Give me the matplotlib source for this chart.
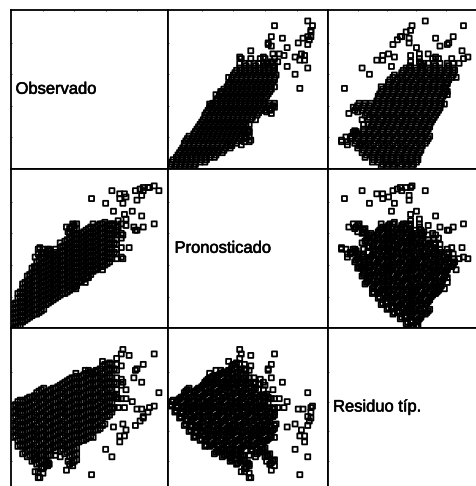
import matplotlib
matplotlib.use("Agg")
import matplotlib.pyplot as plt
import matplotlib.patheffects as pe

labels = ["Observado", "Pronosticado", "Residuo típ."]

observed = [
 1,1,1,1,1,1,
 4,4,4,4,4,4,4,4,
 7,7,7,7,7,7,7,7,7,
 10,10,10,10,10,10,10,10,10,10,
 13,13,13,13,13,13,13,13,13,13,13,
 16,16,16,16,16,16,16,16,16,16,16,16,
 19,19,19,19,19,19,19,19,19,19,19,19,19,
 22,22,22,22,22,22,22,22,22,22,22,22,
 25,25,25,25,25,25,25,25,25,25,25,
 28,28,28,28,28,28,28,28,28,28,28,28,
 31,31,31,31,31,31,31,31,31,31,31,31,
 34,34,34,34,34,34,34,34,34,34,34,34,
 37,37,37,37,37,37,37,37,37,37,37,37,37,37,
 40,40,40,40,40,40,40,40,40,40,40,40,40,40,
 43,43,43,43,43,43,43,43,43,43,43,
 46,46,46,46,46,46,46,46,46,46,46,
 49,49,49,49,49,49,49,49,49,49,49,
 52,52,52,52,52,52,52,52,52,52,52,
 55,55,55,55,55,55,55,55,55,55,
 58,58,58,58,58,58,58,58,58,58,
 61,61,61,61,61,61,61,61,61,
 64,64,64,64,64,64,64,64,
 67,67,67,67,67,67,67,
 70,70,70,70,
 91,94,91,87,84,83,80,79,83,84,80,78,73,77,73,72,71,73,72,69,69,64,65,60,51,
 75,71,71,67,68,70,79,64,68,58,54,47,49,41,39,35,36,19,22,15,
 17,18,20,23,17,15,24,88,82,84,
 2.5,2.5,2.5,2.5,2.5,2.5,
 5.5,5.5,5.5,5.5,5.5,5.5,5.5,5.5,
 8.5,8.5,8.5,8.5,8.5,8.5,8.5,8.5,8.5,
 11.5,11.5,11.5,11.5,11.5,11.5,11.5,11.5,11.5,11.5,
 14.5,14.5,14.5,14.5,14.5,14.5,14.5,14.5,14.5,14.5,14.5,
 17.5,17.5,17.5,17.5,17.5,17.5,17.5,17.5,17.5,17.5,17.5,17.5,
 20.5,20.5,20.5,20.5,20.5,20.5,20.5,20.5,20.5,20.5,20.5,20.5,20.5,
 23.5,23.5,23.5,23.5,23.5,23.5,23.5,23.5,23.5,23.5,23.5,23.5,
 26.5,26.5,26.5,26.5,26.5,26.5,26.5,26.5,26.5,26.5,
 29.5,29.5,29.5,29.5,29.5,29.5,29.5,29.5,29.5,29.5,
 32.5,32.5,32.5,32.5,32.5,32.5,32.5,32.5,32.5,32.5,32.5,
 35.5,35.5,35.5,35.5,35.5,35.5,35.5,35.5,35.5,35.5,35.5,35.5,
 38.5,38.5,38.5,38.5,38.5,38.5,38.5,38.5,38.5,38.5,38.5,38.5,38.5,38.5,
 41.5,41.5,41.5,41.5,41.5,41.5,41.5,41.5,41.5,41.5,41.5,41.5,41.5,41.5,
 44.5,44.5,44.5,44.5,44.5,44.5,44.5,44.5,44.5,44.5,44.5,
 47.5,47.5,47.5,47.5,47.5,47.5,47.5,47.5,47.5,47.5,47.5,
 50.5,50.5,50.5,50.5,50.5,50.5,50.5,50.5,50.5,50.5,50.5,
 53.5,53.5,53.5,53.5,53.5,53.5,53.5,53.5,53.5,53.5,
 56.5,56.5,56.5,56.5,56.5,56.5,56.5,56.5,56.5,56.5,
 59.5,59.5,59.5,59.5,59.5,59.5,59.5,59.5,59.5,59.5,
 62.5,62.5,62.5,62.5,62.5,62.5,62.5,62.5,62.5,
 65.5,65.5,65.5,65.5,
]
predicted = [
 0,3,6,9,12,15,
 1,4,7,10,13,16,19,22,
 4,7,10,13,16,19,22,25,28,
 6,9,12,15,18,21,24,27,30,33,
 8,11,14,17,20,23,26,29,32,35,38,
 9,12,15,18,21,24,27,30,33,36,39,42,
 11,14,17,20,23,26,29,32,35,38,41,44,47,
 15,18,21,24,27,30,33,36,39,42,45,48,
 17,20,23,26,29,32,35,38,41,44,47,
 19,22,25,28,31,34,37,40,43,46,48,50,
 21,24,27,30,33,36,39,42,45,48,51,54,
 22,25,28,31,34,37,40,43,46,49,52,55,
 24,27,30,33,36,39,42,45,48,51,54,57,60,63,
 26,29,32,35,38,41,44,47,50,53,56,59,62,65,
 29,32,35,38,41,44,47,50,53,56,59,
 31,34,37,40,43,46,49,52,55,58,61,
 33,36,39,42,45,48,51,54,57,60,63,
 36,39,42,45,48,51,54,57,60,63,66,
 38,41,44,47,50,53,56,59,62,65,
 39,42,45,48,51,54,57,60,63,66,
 41,44,47,50,53,56,59,62,65,
 44,47,50,53,56,59,62,65,
 44,47,50,53,56,59,62,
 45,51,57,60,
 66,87,90,89,89,84,81,87,71,64,62,64,65,74,69,72,79,83,85,82,85,87,74,79,82,
 51,44,59,61,64,66,62,66,68,37,37,29,32,25,66,64,61,48,47,38,
 50,51,50,50,47,45,50,89,88,87,
 1,4,7,10,13,16,
 2,5,8,11,14,17,20,23,
 5,8,11,14,17,20,23,26,29,
 7,10,13,16,19,22,25,28,31,34,
 9,12,15,18,21,24,27,30,33,36,39,
 10,13,16,19,22,25,28,31,34,37,40,43,
 12,15,18,21,24,27,30,33,36,39,42,45,48,
 16,19,22,25,28,31,34,37,40,43,46,49,
 18,21,24,27,30,33,36,39,42,45,
 20,23,26,29,32,35,38,41,44,47,
 22,25,28,31,34,37,40,43,46,49,52,
 23,26,29,32,35,38,41,44,47,50,53,56,
 25,28,31,34,37,40,43,46,49,52,55,58,61,64,
 27,30,33,36,39,42,45,48,51,54,57,60,63,66,
 30,33,36,39,42,45,48,51,54,57,60,
 32,35,38,41,44,47,50,53,56,59,62,
 34,37,40,43,46,49,52,55,58,61,64,
 37,40,43,46,49,52,55,58,61,64,
 39,42,45,48,51,54,57,60,63,66,
 40,43,46,49,52,55,58,61,64,67,
 42,45,48,51,54,57,60,63,66,
 48,54,60,66,
]
residual = [
 57,53,49,44,40,36,
 60,56,52,47,43,39,34,30,
 60,56,52,47,43,39,34,30,25,
 62,57,53,49,44,40,36,31,27,23,
 63,59,55,50,46,41,37,33,28,24,20,
 66,62,57,53,49,44,40,36,31,27,23,18,
 68,63,59,55,50,46,41,37,33,28,24,20,15,
 66,62,57,53,49,44,40,36,31,27,23,18,
 68,63,59,55,50,46,41,37,33,28,24,
 69,65,60,56,52,47,43,39,34,30,27,24,
 71,66,62,57,53,49,44,40,36,31,27,23,
 73,69,65,60,56,52,47,43,39,34,30,25,
 75,71,66,62,57,53,49,44,40,36,31,27,23,18,
 76,72,68,63,59,55,50,46,41,37,33,28,24,20,
 76,72,68,63,59,55,50,46,41,37,33,
 78,73,69,65,60,56,52,47,43,39,34,
 79,75,71,66,62,57,53,49,44,40,36,
 79,75,71,66,62,57,53,49,44,40,36,
 81,76,72,68,63,59,55,50,46,41,
 84,79,75,71,66,62,57,53,49,44,
 85,81,76,72,68,63,59,55,50,
 85,81,76,72,68,63,59,55,
 89,85,81,76,72,68,63,
 92,84,75,71,
 92,66,57,53,49,55,55,44,73,85,82,76,68,60,62,56,45,41,37,37,33,23,43,28,11,
 91,95,73,65,62,62,81,53,56,87,81,81,81,79,17,14,20,15,20,22,
 9,9,12,17,13,13,18,56,47,50,
 58,54,50,45,41,37,
 61,57,53,48,44,40,35,31,
 61,57,53,48,44,40,35,31,26,
 63,58,54,50,45,41,37,32,28,24,
 64,60,56,51,47,42,38,34,29,25,21,
 67,63,58,54,50,45,41,37,32,28,24,19,
 69,64,60,56,51,47,42,38,34,29,25,21,16,
 67,63,58,54,50,45,41,37,32,28,24,19,
 69,64,60,56,51,47,42,38,34,29,
 70,66,61,57,53,48,44,40,35,31,
 72,67,63,58,54,50,45,41,37,32,28,
 74,70,66,61,57,53,48,44,40,35,31,26,
 76,72,67,63,58,54,50,45,41,37,32,28,24,19,
 77,73,69,64,60,56,51,47,42,38,34,29,25,21,
 77,73,69,64,60,56,51,47,42,38,34,
 79,74,70,66,61,57,53,48,44,40,35,
 80,76,72,67,63,58,54,50,45,41,37,
 80,76,72,67,63,58,54,50,45,41,
 82,77,73,69,64,60,56,51,47,42,
 85,80,76,72,67,63,58,54,50,45,
 86,82,77,73,69,64,60,56,51,
 82,73,64,56,
]

W, H = 477, 486
col_px = [(11, 168), (168, 328), (328, 477)]
row_px = [(10, 168.5), (168.5, 328), (328, 486)]
col_lim = [(-0.4, 99.8), (-1.3, 99.8), (-0.2, 101.2)]
row_lim = [(-0.1, 101), (0.2, 101), (3.4, 109.4)]
label_x = [0.029, 0.041, 0.034]
series = [observed, predicted, residual]

fig = plt.figure(figsize=(W / 100, H / 100), dpi=100)
for r in range(3):
    for c in range(3):
        x0, x1 = col_px[c]
        y0, y1 = row_px[r]
        ax = fig.add_axes([x0 / W, 1 - y1 / H, (x1 - x0) / W, (y1 - y0) / H])
        ax.set_xlim(col_lim[c])
        ax.set_ylim(row_lim[r])
        ax.set_xticks([20, 40, 60, 80])
        ax.set_yticks([20, 40, 60, 80])
        ax.tick_params(direction="in", length=1, width=0.5,
                       labelbottom=False, labelleft=False,
                       bottom=False, top=r == 0, left=True, right=False)
        for sp in ax.spines.values():
            sp.set_linewidth(1.3)
        ax.spines["right"].set_visible(c < 2)
        ax.spines["bottom"].set_visible(r < 2)
        if r == c:
            ax.text(label_x[r], 0.5, labels[r], transform=ax.transAxes, ha="left",
                    va="center", fontsize=11.9, family="Liberation Sans", color="black",
                    path_effects=[pe.withStroke(linewidth=0.4, foreground="black")])
        else:
            ax.scatter(series[c], series[r], marker="s", s=13, linewidths=1.3,
                       facecolors="none", edgecolors="black", snap=False)
fig.savefig("out.png", dpi=100)
